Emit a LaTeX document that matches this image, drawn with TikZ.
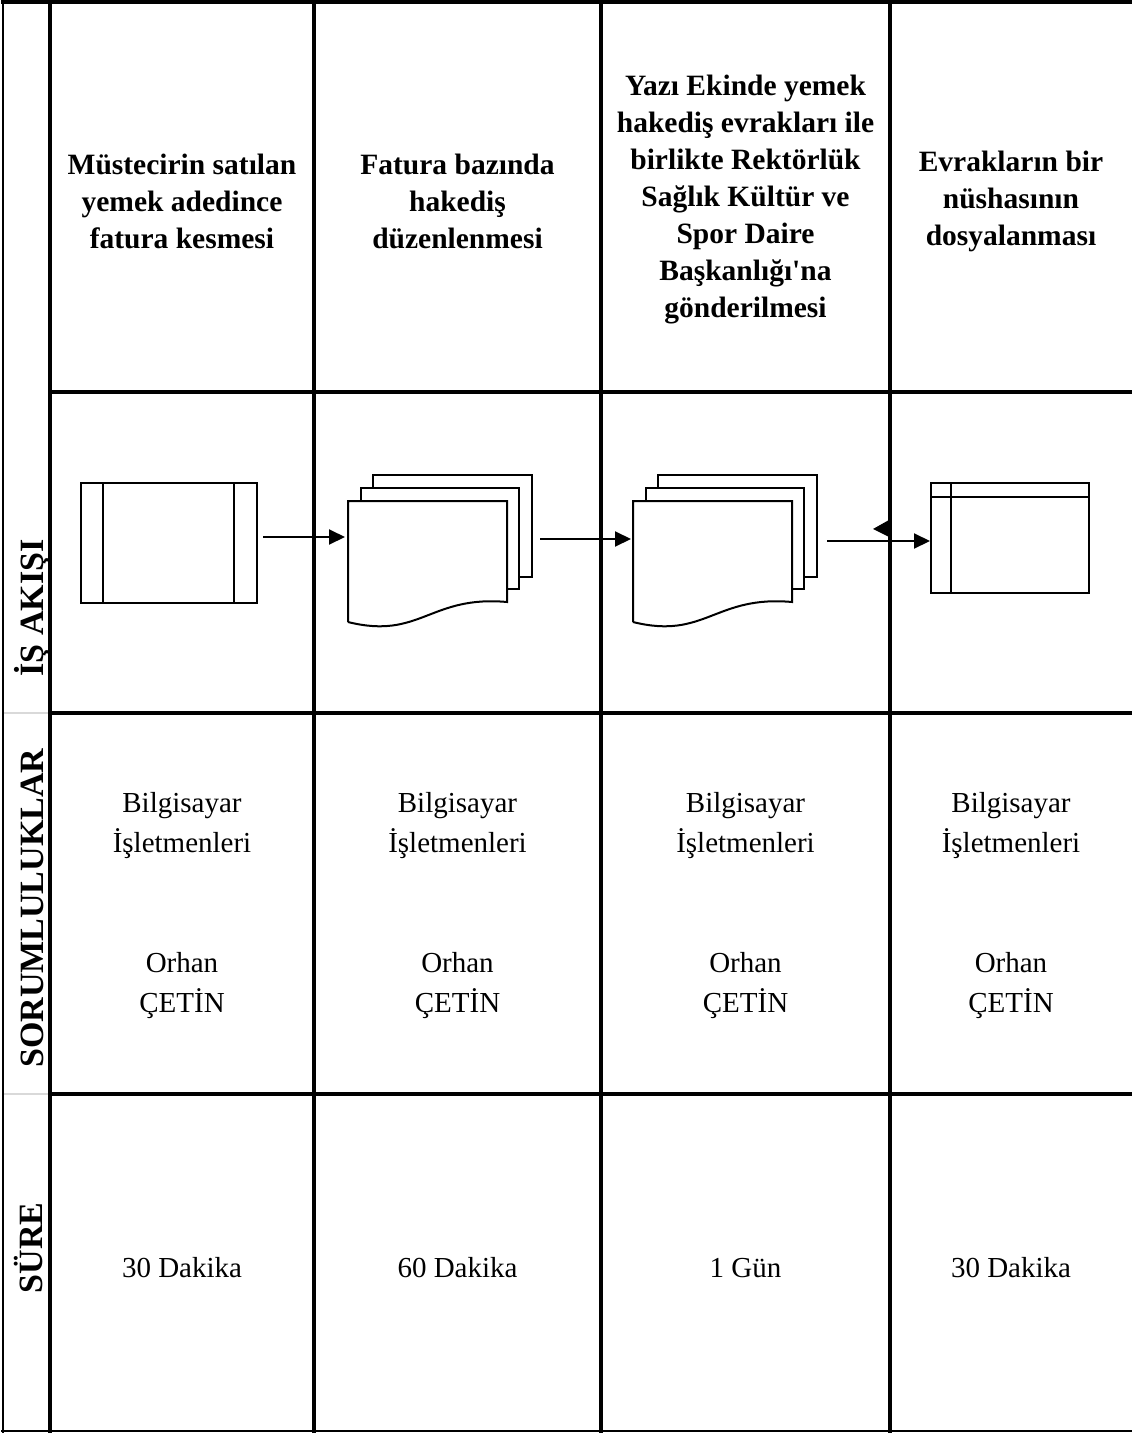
\documentclass[tikz,border=0pt]{standalone}
\usepackage{fontspec}
\setmainfont{Liberation Serif}[Ligatures=TeXOff]
\usetikzlibrary{arrows.meta}
\tikzset{
  hdr/.style={font=\bfseries\fontsize{29.5}{37}\selectfont, align=center, inner sep=0pt},
  cell/.style={font=\fontsize{29}{40}\selectfont, align=center, inner sep=0pt},
  side/.style={font=\fontsize{34}{38}\selectfont, rotate=90, anchor=base, inner sep=0pt},
  grid/.style={line width=4pt},
  hgrid/.style={line width=3.5pt},
  sgrid/.style={line width=2pt, draw=black!15},
  shp/.style={draw, line width=2pt, fill=white},
  flow/.style={line width=2pt, -{Triangle[length=16pt,width=15pt]}},
  multidoc/.pic={
    \path[shp] (25,-26) rectangle (184,76);
    \path[shp] (13,-13) rectangle (171,88);
    \path[shp] (0,121) -- (0,0) -- (159,0) -- (159,101)
      .. controls (82,94) and (72,139) .. (0,121);
  }
}
\begin{document}
\begin{tikzpicture}[x=1pt,y=-1pt]
\useasboundingbox (0,0) rectangle (1132,1434);
\fill[white] (0,0) rectangle (1132,1434);

% stray arrowhead (drawn under column line)
\fill (873,529) -- (889,520) -- (889,537) -- cycle;

% grid
\draw[sgrid] (3,713) -- (50,713);
\draw[sgrid] (3,1094) -- (50,1094);
\draw[line width=2.5pt] (3,0) -- (3,1433);
\draw[grid] (1,2) -- (1132,2);
\draw[hgrid] (50,392) -- (1132,392);
\draw[hgrid] (50,713) -- (1132,713);
\draw[hgrid] (50,1094) -- (1132,1094);
\draw[line width=2.5pt] (1,1431) -- (1132,1431);
\foreach \x in {50,314,601,890} \draw[grid] (\x,0) -- (\x,1433);

% side labels
\node[side] (lab1) at (43,608) {\textbf{İŞ AKIŞI}};
\node[side] (lab2) at (43,908) {\textbf{SORUMLULUKLAR}};
\node[side] (lab3) at (42,1248) {\textbf{SÜRE}};

% header texts
\node[hdr] (h1) at (182,201) {Müstecirin satılan\\yemek adedince\\fatura kesmesi};
\node[hdr] (h2) at (457.5,201) {Fatura bazında\\hakediş\\düzenlenmesi};
\node[hdr] (h3) at (745.5,200) {Yazı Ekinde yemek\\hakediş evrakları ile\\birlikte Rektörlük\\Sağlık Kültür ve\\Spor Daire\\Başkanlığı'na\\gönderilmesi};
\node[hdr] (h4) at (1011,201) {Evrakların bir\\nüshasının\\dosyalanması};

% shapes
\node[shp, minimum width=176pt, minimum height=120pt, inner sep=0pt] (s1) at (169,543) {};
\draw[line width=2pt] (103,483) -- (103,603);
\draw[line width=2pt] (234,483) -- (234,603);
\pic at (348,501) {multidoc};
\pic at (633,501) {multidoc};
\node[shp, minimum width=158pt, minimum height=110pt, inner sep=0pt] (s4) at (1010,538) {};
\draw[line width=2pt] (931,497) -- (1089,497);
\draw[line width=2pt] (951,483) -- (951,593);

% connectors
\coordinate (a1s) at (263,537); \coordinate (a1e) at (345,537);
\coordinate (a2s) at (540,539); \coordinate (a2e) at (631,539);
\coordinate (a3s) at (827,541); \coordinate (a3e) at (930,541);
\draw[flow] (a1s) -- (a1e);
\draw[flow] (a2s) -- (a2e);
\draw[flow] (a3s) -- (a3e);

% responsibilities
\foreach \cx/\nm in {182/1,457.5/2,745.5/3,1011/4}{
  \node[cell] (r\nm a) at (\cx,826) {Bilgisayar\\İşletmenleri};
  \node[cell] (r\nm b) at (\cx,986) {Orhan\\ÇETİN};
}
% durations
\node[cell] (d1) at (182,1268) {30 Dakika};
\node[cell] (d2) at (457.5,1268) {60 Dakika};
\node[cell] (d3) at (745.5,1268) {1 Gün};
\node[cell] (d4) at (1011,1268) {30 Dakika};
\end{tikzpicture}
\end{document}
